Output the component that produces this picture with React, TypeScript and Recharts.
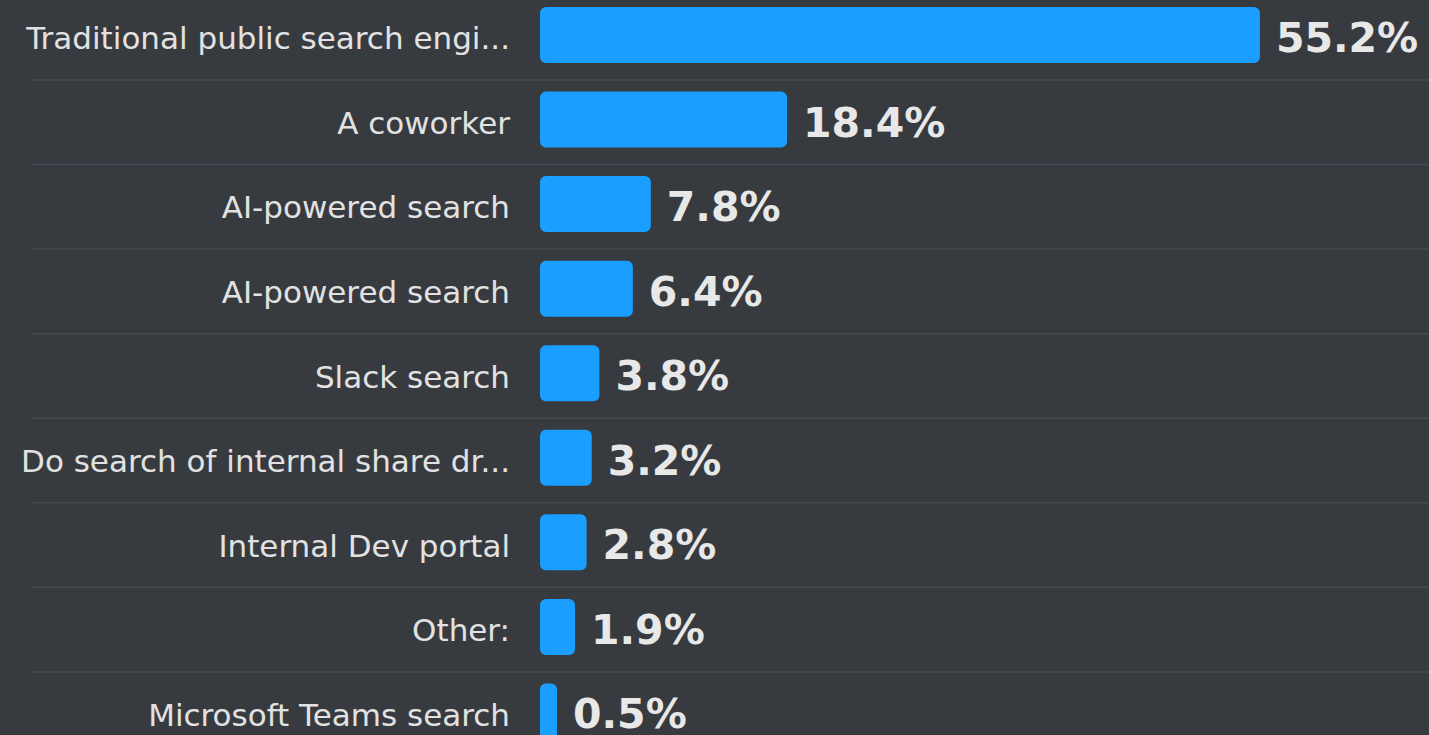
import { Bar, BarChart, XAxis, YAxis, LabelList, Rectangle } from 'recharts'

const categories = [
  'Traditional public search engi...',
  'A coworker',
  'AI-powered search',
  'AI-powered search',
  'Slack search',
  'Do search of internal share dr...',
  'Internal Dev portal',
  'Other:',
  'Microsoft Teams search',
]
const shares = [55.2, 18.4, 7.8, 6.4, 3.8, 3.2, 2.8, 1.9, 0.5]

const data = categories.map((label, i) => ({ label, share: shares[i] }))

const BG = '#373b40'
const BAR = '#1a9eff'
const FONT = '"DejaVu Sans", sans-serif'
const EXTRA = 10.6 // bars carry a small constant stub past the value

function CategoryTick({ x, y, payload }: any) {
  return (
    <text x={x} y={y + 14} textAnchor="end" fill="#e2e2e2" fontSize={31} fontFamily={FONT}>
      {payload.value}
    </text>
  )
}

function RoundedBar(props: any) {
  const { x, y, width, height } = props
  return <Rectangle x={x} y={y} width={width + EXTRA} height={height} radius={6} fill={BAR} />
}

function Separator(props: any) {
  const { y, height, index } = props
  if (index === categories.length - 1) return <g />
  const ly = y + height + 17
  return <line x1={32} x2={1429} y1={ly} y2={ly} stroke="#464a50" strokeWidth={1.5} />
}

function ValueLabel({ x, y, width, height, value }: any) {
  return (
    <text x={x + width + EXTRA + 16} y={y + height / 2 + 17} fill="#e8e8e8" fontSize={41} fontWeight="bold" fontFamily={FONT}>
      {`${Number(value).toFixed(1)}%`}
    </text>
  )
}

export default function App() {
  return (
    <div style={{ position: 'absolute', left: 0, top: 0, width: 1429, height: 735, overflow: 'hidden', background: BG }}>
      <div style={{ position: 'relative', top: -7 }}>
        <BarChart width={1429} height={761} data={data} layout="vertical" margin={{ top: 0, right: 118, bottom: 0, left: 0 }}>
          <XAxis type="number" domain={[0, 60]} hide />
          <YAxis type="category" dataKey="label" width={540} tickLine={false} axisLine={false} tickSize={0} tickMargin={30} tick={<CategoryTick />} interval={0} />
          <Bar dataKey="share" barSize={56} shape={<RoundedBar />} background={<Separator />} isAnimationActive={false}>
            <LabelList dataKey="share" content={<ValueLabel />} />
          </Bar>
        </BarChart>
      </div>
    </div>
  )
}
